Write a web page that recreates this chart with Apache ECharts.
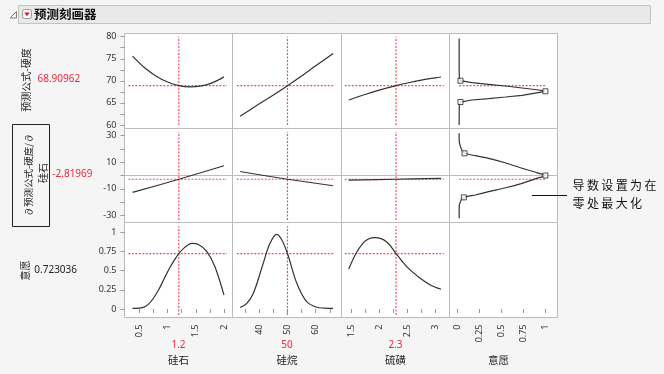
<!DOCTYPE html>
<html><head><meta charset="utf-8">
<script src="https://cdn.jsdelivr.net/npm/echarts@6/dist/echarts.min.js"></script>
<style>html,body{margin:0;padding:0;background:#f5f5f5}#c{width:664px;height:374px}</style>
</head><body><div id="c"></div>
<script>
// ---------------- data ----------------
const factorNames = ['硅石', '硅烷', '硫磺', '意愿'];
const rowLabels = ['预测公式-硬度', '∂预测公式-硬度/∂', '意愿'];
const rowLabel2Second = '硅石';
const currentX = [1.2, 50, 2.3];
const currentXText = ['1.2', '50', '2.3'];
const currentY = [68.90962, -2.81969, 0.723036];
const currentYText = ['68.90962', '-2.81969', '0.723036'];

// row 1: predicted hardness
const silicaPts = [0.38, 0.6, 0.8, 1.0, 1.2, 1.4, 1.6, 1.8, 2.0];
const hardVsSilica = [75.6, 72.9, 71.05, 69.75, 68.91, 68.62, 68.85, 69.6, 70.9];
const silanePts = [33.2, 40, 45, 50, 55, 60, 66.2];
const hardVsSilane = [62.0, 64.8, 66.8, 68.91, 71.1, 73.4, 76.2];
const sulfurPts = [1.46, 1.75, 2.0, 2.3, 2.5, 2.75, 3.0, 3.1];
const hardVsSulfur = [65.66, 66.91, 67.89, 68.91, 69.51, 70.16, 70.69, 70.87];
const hardDesirD = [0.018, 0.018, 0.02, 0.033, 0.162, 0.354, 0.545, 0.735, 0.926, 1.0, 0.735, 0.545, 0.354, 0.162, 0.033, 0.02, 0.018, 0.018];
const hardDesirY = [79.6, 72.5, 70.6, 70.03, 69.58, 69.22, 68.83, 68.38, 67.93, 67.63, 66.73, 66.34, 65.96, 65.66, 65.2, 64.6, 62, 60];
const hardHandleD = [0.033, 1.0, 0.033];
const hardHandleY = [70.03, 67.63, 65.2];

// row 2: derivative of hardness w.r.t. silica
const derivSilicaPts = [0.38, 1.2, 2.0];
const derivVsSilica = [-12.7, -2.82, 7.3];
const derivSilanePts = [33.2, 50, 66.2];
const derivVsSilane = [3.0, -2.82, -7.7];
const derivSulfurPts = [1.46, 2.3, 3.1];
const derivVsSulfur = [-3.4, -2.82, -2.2];
const derivDesirD = [0.018, 0.018, 0.022, 0.048, 0.079, 0.2, 0.354, 0.55, 0.735, 0.9, 1.0, 0.9, 0.735, 0.55, 0.354, 0.2, 0.071, 0.041, 0.018, 0.018];
const derivDesirY = [31.6, 27.5, 24.2, 19.1, 16.65, 14.9, 12.9, 9.4, 5.4, 2.2, 0, -2.2, -5.9, -9.2, -12.1, -14.6, -16.4, -18.4, -23.4, -32.1];
const derivHandleD = [0.079, 1.0, 0.071];
const derivHandleY = [16.65, 0, -16.4];

// row 3: overall desirability
const desSilicaPts = [0.38, 0.57, 0.66, 0.75, 0.85, 0.95, 1.05, 1.15, 1.2, 1.3, 1.43, 1.55, 1.7, 1.84, 2.0];
const desVsSilica = [0.009, 0.022, 0.06, 0.14, 0.26, 0.41, 0.55, 0.67, 0.723, 0.80, 0.857, 0.84, 0.745, 0.55, 0.18];
const desSilanePts = [33.2, 35.5, 37.9, 41.4, 43.8, 46.2, 48, 50, 53.3, 56.8, 60.4, 63, 66.2];
const desVsSilane = [0.02, 0.07, 0.205, 0.596, 0.857, 0.974, 0.9, 0.723, 0.335, 0.095, 0.022, 0.012, 0.009];
const desSulfurPts = [1.46, 1.59, 1.71, 1.81, 1.93, 2.13, 2.3, 2.49, 2.73, 2.91, 3.1];
const desVsSulfur = [0.521, 0.726, 0.857, 0.913, 0.93, 0.878, 0.723, 0.552, 0.40, 0.313, 0.257];

// tick values
const xTickVals = [[0.5,0.75,1,1.25,1.5,1.75,2],[35,40,45,50,55,60,65],[1.5,1.75,2,2.25,2.5,2.75,3],[0,0.25,0.5,0.75,1]];
const xLabelVals = [[0.5,1,1.5,2],[40,50,60],[1.5,2,2.5,3],[0,0.25,0.5,0.75,1]];
const yTickVals = [[60,62.5,65,67.5,70,72.5,75,77.5,80],[-30,-20,-10,0,10,20,30],[0,0.25,0.5,0.75,1]];
const yLabelVals = [[60,65,70,75,80],[-30,-10,10,30],[0,0.25,0.5,0.75,1]];

const annotationLines = ['导\u2009数\u2009设\u2009置\u2009为\u2009在', '零\u2009处\u2009最\u2009大\u2009化'];
const titleText = '预测刻画器';

// ---------------- layout / style ----------------
const COLS = [124.5, 232.5, 341.5, 449.5, 557.5];
const ROWS = [33.5, 128.5, 222.5, 317.5];
const X_RANGE = [[0.2376, 2.151], [30.5, 69.15], [1.331, 3.25], [-0.092, 1.138]];
const Y_RANGE = [[59.21, 80.72], [-35.25, 35.25], [-0.111, 1.128]];
const V_EXT = [[60, 80], [-33.4, 32.8], [-0.08, 1.08]];
const H_EXT = [[0.305, 2.05], [32, 66.8], [1.39, 3.15], [0.018, 1.0]];
const RED = '#e8283e';
const REFLINE = '#ee4f63';
const CURVE = '#333333';
const FONT = "'Noto Sans', 'Noto Sans CJK SC', sans-serif";
const CJK = "'Noto Sans CJK SC', 'Noto Sans', sans-serif";

const zip = (a, b) => a.map((v, i) => [v, b[i]]);

const curves = [
  [zip(silicaPts, hardVsSilica), zip(silanePts, hardVsSilane), zip(sulfurPts, hardVsSulfur), zip(hardDesirD, hardDesirY)],
  [zip(derivSilicaPts, derivVsSilica), zip(derivSilanePts, derivVsSilane), zip(derivSulfurPts, derivVsSulfur), zip(derivDesirD, derivDesirY)],
  [zip(desSilicaPts, desVsSilica), zip(desSilanePts, desVsSilane), zip(desSulfurPts, desVsSulfur), null]
];
const handles = [zip(hardHandleD, hardHandleY), zip(derivHandleD, derivHandleY)];

const refLine = (gi, data) => ({
  type: 'line', xAxisIndex: gi, yAxisIndex: gi, data: data, symbol: 'none', silent: true,
  color: REFLINE, itemStyle: { color: REFLINE },
  lineStyle: { color: REFLINE, width: 1.2, type: [2, 1.5], opacity: 1 }, z: 2
});

const grids = [], xAxes = [], yAxes = [], series = [];
for (let r = 0; r < 3; r++) {
  for (let c = 0; c < 4; c++) {
    const gi = r * 4 + c;
    grids.push({
      left: COLS[c], top: ROWS[r], width: COLS[c + 1] - COLS[c], height: ROWS[r + 1] - ROWS[r],
      show: true, backgroundColor: '#ffffff', borderColor: '#bcbcbc', borderWidth: 1
    });
    xAxes.push({
      type: 'value', gridIndex: gi, min: X_RANGE[c][0], max: X_RANGE[c][1], show: r === 2,
      axisLine: { show: false }, splitLine: { show: false },
      axisTick: { show: true, length: 4, lineStyle: { color: '#999' }, customValues: xTickVals[c] },
      axisLabel: { show: true, rotate: 90, margin: 7, fontSize: 9, color: '#333', fontFamily: FONT, customValues: xLabelVals[c] }
    });
    yAxes.push({
      type: 'value', gridIndex: gi, min: Y_RANGE[r][0], max: Y_RANGE[r][1], show: c === 0,
      axisLine: { show: false }, splitLine: { show: false },
      axisTick: { show: true, length: 4, lineStyle: { color: '#999' }, customValues: yTickVals[r] },
      axisLabel: { show: true, margin: 8, fontSize: 9, color: '#333', fontFamily: FONT, customValues: yLabelVals[r] }
    });
    const data = curves[r][c];
    if (!data) continue;
    if (r === 1) {
      series.push({ type: 'line', xAxisIndex: gi, yAxisIndex: gi, data: [[X_RANGE[c][0], 0], [X_RANGE[c][1], 0]],
        symbol: 'none', silent: true, color: '#f5a3ab', lineStyle: { color: '#f5a3ab', width: 1 }, z: 1 });
    }
    series.push(refLine(gi, [[H_EXT[c][0], currentY[r]], [H_EXT[c][1], currentY[r]]]));
    if (c < 3) series.push(refLine(gi, [[currentX[c], V_EXT[r][0]], [currentX[c], V_EXT[r][1]]]));
    series.push({ type: 'line', xAxisIndex: gi, yAxisIndex: gi, data: data, symbol: 'none',
      smooth: c === 3 ? (r === 1 ? 0.2 : false) : 0.35, silent: true, color: CURVE,
      lineStyle: { color: CURVE, width: 1.2 }, z: 3 });
    if (c === 3 && handles[r]) {
      series.push({ type: 'scatter', xAxisIndex: gi, yAxisIndex: gi, data: handles[r], symbol: 'rect', symbolSize: 5,
        silent: true, itemStyle: { color: '#fff', borderColor: '#222', borderWidth: 1 }, z: 4 });
    }
  }
}

const colCenter = c => (COLS[c] + COLS[c + 1]) / 2;
const graphics = [
  { type: 'rect', shape: { x: 18.5, y: 5.5, width: 632, height: 18 }, style: { fill: '#e9e9e9', stroke: '#c2c2c2', lineWidth: 1 } },
  { type: 'polygon', shape: { points: [[10, 18], [16.5, 18], [16.5, 11.5]] }, style: { fill: 'none', stroke: '#808080', lineWidth: 1 } },
  { type: 'rect', shape: { x: 22.5, y: 9.5, width: 9, height: 9, r: 2 }, style: { fill: '#f6f6f6', stroke: '#999', lineWidth: 1 } },
  { type: 'polygon', shape: { points: [[24.3, 12.6], [29.7, 12.6], [27, 16.2]] }, style: { fill: '#d42030' } },
  { type: 'text', x: 34, y: 14.5, style: { text: titleText, fontSize: 12.5, fontWeight: 'bold', fontFamily: CJK, fill: '#111', verticalAlign: 'middle' } },
  { type: 'text', x: 26.5, y: 80, rotation: Math.PI / 2, style: { text: rowLabels[0], fontSize: 10, fontFamily: CJK, fill: '#222', align: 'center', verticalAlign: 'middle' } },
  { type: 'text', x: 37.5, y: 79.5, style: { text: currentYText[0], fontSize: 10, fontFamily: FONT, fill: RED, verticalAlign: 'middle' } },
  { type: 'rect', shape: { x: 12.5, y: 124.5, width: 37, height: 102 }, style: { fill: 'none', stroke: '#222', lineWidth: 1 } },
  { type: 'text', x: 28, y: 175, rotation: Math.PI / 2, style: { text: rowLabels[1], fontSize: 9.5, fontFamily: CJK, fill: '#222', align: 'center', verticalAlign: 'middle' } },
  { type: 'text', x: 43.5, y: 173, rotation: Math.PI / 2, style: { text: rowLabel2Second, fontSize: 10, fontFamily: CJK, fill: '#222', align: 'center', verticalAlign: 'middle' } },
  { type: 'text', x: 52.3, y: 174, style: { text: currentYText[1], fontSize: 10, fontFamily: FONT, fill: RED, verticalAlign: 'middle' } },
  { type: 'text', x: 25.5, y: 270.5, rotation: Math.PI / 2, style: { text: rowLabels[2], fontSize: 10, fontFamily: CJK, fill: '#222', align: 'center', verticalAlign: 'middle' } },
  { type: 'text', x: 34.3, y: 270, style: { text: currentYText[2], fontSize: 10, fontFamily: FONT, fill: '#222', verticalAlign: 'middle' } },
  { type: 'line', shape: { x1: 532, y1: 195.5, x2: 567, y2: 195.5 }, style: { stroke: '#111', lineWidth: 1 } },
  { type: 'text', x: 572.5, y: 185, style: { text: annotationLines[0], fontSize: 12, fontFamily: CJK, fill: '#111', verticalAlign: 'middle' } },
  { type: 'text', x: 572.5, y: 203.5, style: { text: annotationLines[1], fontSize: 12, fontFamily: CJK, fill: '#111', verticalAlign: 'middle' } }
];
for (let c = 0; c < 4; c++) {
  if (c < 3) graphics.push({ type: 'text', x: colCenter(c), y: 345, style: { text: currentXText[c], fontSize: 10, fontFamily: FONT, fill: RED, align: 'center', verticalAlign: 'middle' } });
  graphics.push({ type: 'text', x: colCenter(c) - (c === 3 ? 5 : 0), y: 360, style: { text: factorNames[c], fontSize: 10.5, fontFamily: CJK, fill: '#222', align: 'center', verticalAlign: 'middle' } });
}

const chart = echarts.init(document.getElementById('c'), null, { renderer: 'canvas' });
chart.setOption({
  backgroundColor: '#f5f5f5',
  animation: false,
  grid: grids, xAxis: xAxes, yAxis: yAxes, series: series,
  graphic: graphics
});
</script></body></html>
